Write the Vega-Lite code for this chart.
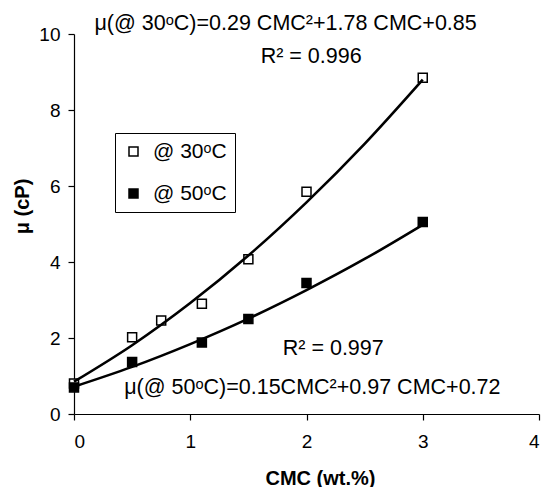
{
  "$schema": "https://vega.github.io/schema/vega-lite/v6.json",
  "width": 465,
  "height": 380,
  "autosize": {"type": "none"},
  "padding": {"left": 74, "top": 34, "right": 8, "bottom": 73},
  "background": "white",
  "config": {
    "view": {"stroke": null},
    "font": "Liberation Sans",
    "axis": {
      "grid": false,
      "domainColor": "black",
      "domainWidth": 1.2,
      "tickColor": "black",
      "tickWidth": 1.2,
      "tickSize": 6,
      "labelColor": "black",
      "labelFont": "Liberation Sans",
      "labelFontSize": 19,
      "titleColor": "black",
      "titleFont": "Liberation Sans",
      "titleFontSize": 20,
      "titleFontWeight": "bold"
    }
  },
  "datasets": {
    "points": [
      {"series": "@ 30ᵒC", "cmc": 0, "mu": 0.8},
      {"series": "@ 30ᵒC", "cmc": 0.5, "mu": 2.02},
      {"series": "@ 30ᵒC", "cmc": 0.75, "mu": 2.46},
      {"series": "@ 30ᵒC", "cmc": 1.1, "mu": 2.9},
      {"series": "@ 30ᵒC", "cmc": 1.5, "mu": 4.07},
      {"series": "@ 30ᵒC", "cmc": 2, "mu": 5.85},
      {"series": "@ 30ᵒC", "cmc": 3, "mu": 8.85},
      {"series": "@ 50ᵒC", "cmc": 0, "mu": 0.7},
      {"series": "@ 50ᵒC", "cmc": 0.5, "mu": 1.37},
      {"series": "@ 50ᵒC", "cmc": 1.1, "mu": 1.88},
      {"series": "@ 50ᵒC", "cmc": 1.5, "mu": 2.5},
      {"series": "@ 50ᵒC", "cmc": 2, "mu": 3.45},
      {"series": "@ 50ᵒC", "cmc": 3, "mu": 5.05}
    ],
    "fits": [
      {"series": "30", "cmc": 0, "mu": 0.85},
      {"series": "30", "cmc": 0.5, "mu": 1.81},
      {"series": "30", "cmc": 1, "mu": 2.92},
      {"series": "30", "cmc": 1.5, "mu": 4.17},
      {"series": "30", "cmc": 2, "mu": 5.57},
      {"series": "30", "cmc": 2.5, "mu": 7.11},
      {"series": "30", "cmc": 3, "mu": 8.8},
      {"series": "50", "cmc": 0, "mu": 0.72},
      {"series": "50", "cmc": 0.5, "mu": 1.24},
      {"series": "50", "cmc": 1, "mu": 1.84},
      {"series": "50", "cmc": 1.5, "mu": 2.51},
      {"series": "50", "cmc": 2, "mu": 3.26},
      {"series": "50", "cmc": 2.5, "mu": 4.08},
      {"series": "50", "cmc": 3, "mu": 4.98}
    ],
    "notes": [
      {"label": "μ(@ 30ᵒC)=0.29 CMC²+1.78 CMC+0.85", "cmc": 1.82, "mu": 10.27},
      {"label": "R² = 0.996", "cmc": 2.04, "mu": 9.39},
      {"label": "R² = 0.997", "cmc": 2.23, "mu": 1.71},
      {"label": "μ(@ 50ᵒC)=0.15CMC²+0.97 CMC+0.72", "cmc": 2.05, "mu": 0.68}
    ]
  },
  "layer": [
    {
      "data": {"name": "points"},
      "mark": {"type": "point", "shape": "square", "filled": true, "size": 81, "stroke": "black", "strokeWidth": 1.5, "opacity": 1},
      "encoding": {
        "x": {"field": "cmc", "type": "quantitative", "scale": {"domain": [0, 4], "nice": false},
              "axis": {"values": [0, 1, 2, 3, 4], "format": "d", "title": "CMC (wt.%)", "labelPadding": 12, "titleX": 246, "titleY": 70, "titleBaseline": "alphabetic"}},
        "y": {"field": "mu", "type": "quantitative", "scale": {"domain": [0, 10], "nice": false},
              "axis": {"values": [0, 2, 4, 6, 8, 10], "format": "d", "title": "μ (cP)", "labelPadding": 8, "titleX": -52, "titleY": 172, "titleBaseline": "middle", "titleAngle": -90, "titleAlign": "center"}},
        "fill": {"field": "series", "type": "nominal",
                 "scale": {"domain": ["@ 30ᵒC", "@ 50ᵒC"], "range": ["white", "black"]},
                 "legend": {"orient": "none", "legendX": 41, "legendY": 99, "title": null,
                            "strokeColor": "black", "fillColor": "white", "padding": 8,
                            "rowPadding": 20, "labelFontSize": 21, "labelColor": "black",
                            "labelFont": "Liberation Sans", "labelOffset": 9, "labelLimit": 0,
                            "symbolType": "square", "symbolSize": 81, "symbolStrokeColor": "black",
                            "symbolStrokeWidth": 1.5, "symbolOpacity": 1}}
      }
    },
    {
      "data": {"name": "fits"},
      "mark": {"type": "line", "color": "black", "strokeWidth": 2.6, "interpolate": "monotone"},
      "encoding": {
        "x": {"field": "cmc", "type": "quantitative"},
        "y": {"field": "mu", "type": "quantitative"},
        "detail": {"field": "series", "type": "nominal"}
      }
    },
    {
      "data": {"name": "notes"},
      "mark": {"type": "text", "fontSize": 21.5, "font": "Liberation Sans", "color": "black", "align": "center", "baseline": "middle"},
      "encoding": {
        "x": {"field": "cmc", "type": "quantitative"},
        "y": {"field": "mu", "type": "quantitative"},
        "text": {"field": "label", "type": "nominal"}
      }
    }
  ]
}
